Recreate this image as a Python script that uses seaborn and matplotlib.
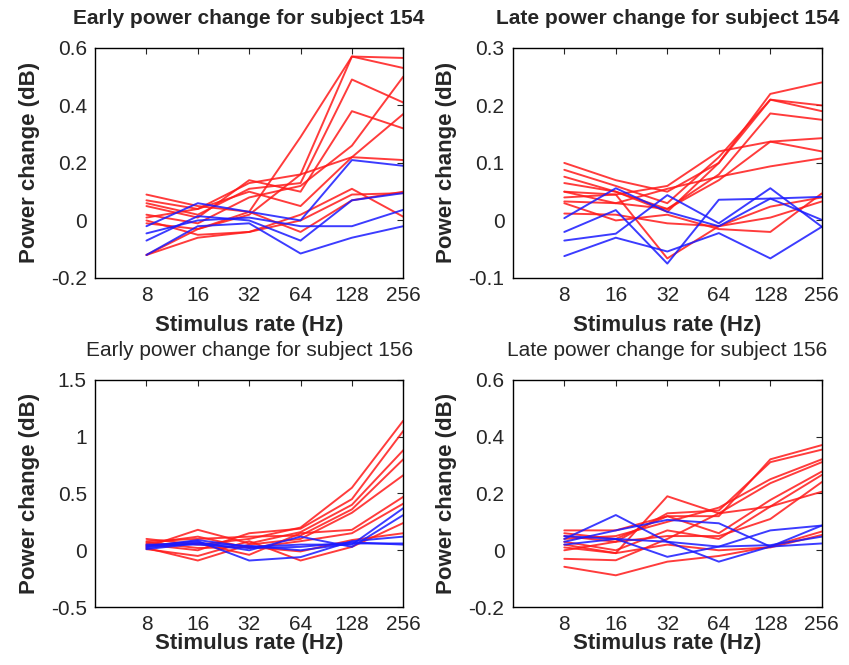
import numpy as np
import pandas as pd
import matplotlib
matplotlib.use("Agg")
import matplotlib.pyplot as plt
import seaborn as sns

# Stimulus rates (Hz), x axis is log2
RATES = [8, 16, 32, 64, 128, 256]

# Early, subject 154
early154_red = [
    [0.09, 0.05, 0.03, 0.29, 0.57, 0.565],
    [0.07, 0.04, 0.13, 0.16, 0.57, 0.53],
    [0.06, 0.02, 0.11, 0.13, 0.49, 0.41],
    [0.05, 0.01, 0.14, 0.10, 0.38, 0.32],
    [0.02, -0.01, 0.08, 0.12, 0.26, 0.50],
    [0.01, 0.04, 0.10, 0.05, 0.22, 0.37],
    [-0.01, -0.03, 0.02, 0.16, 0.22, 0.21],
    [0.00, -0.05, -0.04, 0.02, 0.11, 0.013],
    [-0.12, -0.06, -0.04, 0.00, 0.09, 0.095],
    [-0.12, -0.03, 0.03, -0.04, 0.07, 0.10],
]
early154_blue = [
    [-0.02, 0.06, 0.03, 0.00, 0.21, 0.19],
    [-0.045, 0.00, 0.01, -0.02, -0.02, 0.037],
    [-0.07, 0.015, 0.00, -0.07, 0.07, 0.095],
    [-0.12, -0.02, -0.01, -0.115, -0.06, -0.02],
]

# Late, subject 154
late154_red = [
    [0.10, 0.07, 0.05, 0.10, 0.22, 0.24],
    [0.088, 0.06, 0.03, 0.11, 0.21, 0.20],
    [0.076, 0.05, 0.015, 0.10, 0.21, 0.19],
    [0.065, 0.05, 0.02, 0.08, 0.186, 0.175],
    [0.05, 0.03, 0.02, 0.07, 0.137, 0.143],
    [0.05, 0.045, 0.06, 0.12, 0.137, 0.12],
    [0.033, 0.03, 0.055, 0.076, 0.094, 0.108],
    [0.03, 0.00, 0.01, -0.015, -0.02, 0.047],
    [0.012, 0.01, -0.005, -0.01, 0.005, 0.033],
    [0.04, 0.045, -0.066, -0.01, 0.024, 0.04],
]
late154_blue = [
    [0.004, 0.056, 0.015, -0.01, 0.038, 0.001],
    [-0.02, 0.018, -0.075, 0.036, 0.038, 0.041],
    [-0.035, -0.023, 0.044, -0.005, 0.056, -0.011],
    [-0.062, -0.03, -0.054, -0.022, -0.066, -0.011],
]

# Early, subject 156
early156_red = [
    [0.10, 0.05, 0.10, 0.20, 0.55, 1.14],
    [0.05, 0.00, 0.15, 0.19, 0.45, 1.05],
    [0.03, 0.18, 0.06, 0.16, 0.40, 0.88],
    [0.08, 0.10, 0.12, 0.13, 0.36, 0.80],
    [0.02, -0.09, 0.05, 0.10, 0.33, 0.66],
    [0.04, 0.06, -0.04, 0.15, 0.18, 0.47],
    [0.06, 0.12, 0.02, 0.08, 0.15, 0.41],
    [0.01, -0.05, 0.08, -0.09, 0.03, 0.24],
    [0.07, 0.02, 0.03, -0.01, 0.09, 0.15],
]
early156_blue = [
    [0.03, 0.09, 0.03, 0.05, 0.05, 0.37],
    [0.02, 0.07, 0.00, 0.12, 0.03, 0.31],
    [0.04, 0.08, -0.09, -0.06, 0.08, 0.12],
    [0.05, 0.05, 0.02, 0.03, 0.07, 0.05],
    [0.01, 0.06, 0.04, 0.00, 0.06, 0.06],
]

# Late, subject 156
late156_red = [
    [0.07, 0.07, 0.12, 0.12, 0.32, 0.37],
    [0.05, 0.03, 0.13, 0.14, 0.31, 0.354],
    [0.04, 0.05, 0.10, 0.15, 0.25, 0.32],
    [0.02, -0.01, 0.19, 0.13, 0.236, 0.31],
    [0.06, 0.04, 0.12, 0.06, 0.177, 0.277],
    [0.03, 0.00, 0.07, 0.04, 0.154, 0.265],
    [-0.03, -0.035, 0.04, 0.13, 0.154, 0.206],
    [0.00, 0.03, 0.05, 0.05, 0.11, 0.24],
    [-0.058, -0.088, -0.04, -0.02, 0.013, 0.066],
    [0.01, -0.01, 0.02, 0.00, 0.01, 0.054],
]
late156_blue = [
    [0.04, 0.124, 0.03, 0.013, 0.07, 0.087],
    [0.03, 0.07, 0.107, 0.095, 0.013, 0.087],
    [0.02, 0.04, -0.023, 0.013, 0.018, 0.048],
    [0.05, 0.04, 0.03, -0.04, 0.013, 0.024],
]

PANELS = [
    ("Early power change for subject 154", "bold", early154_red, early154_blue, (-0.2, 0.6), 0.2),
    ("Late power change for subject 154", "bold", late154_red, late154_blue, (-0.1, 0.3), 0.1),
    ("Early power change for subject 156", "normal", early156_red, early156_blue, (-0.5, 1.5), 0.5),
    ("Late power change for subject 156", "normal", late156_red, late156_blue, (-0.2, 0.6), 0.2),
]


def to_long(red, blue):
    rows = []
    for group, lines in (("red", red), ("blue", blue)):
        for i, vals in enumerate(lines):
            for r, v in zip(RATES, vals):
                rows.append({"group": group, "line": f"{group}{i}", "rate": r, "value": v})
    return pd.DataFrame(rows)


sns.set_style("white")
FONT = ["Liberation Sans", "DejaVu Sans"]
plt.rcParams["font.family"] = FONT
plt.rcParams["axes.linewidth"] = 1.0
plt.rcParams["axes.edgecolor"] = "black"

fig = plt.figure(figsize=(8.49, 6.65), dpi=100)
positions = [
    [0.112, 0.582, 0.363, 0.346],
    [0.604, 0.582, 0.364, 0.346],
    [0.112, 0.087, 0.363, 0.342],
    [0.604, 0.087, 0.364, 0.342],
]

for k, (pos, (title, weight, red, blue, ylim, step)) in enumerate(zip(positions, PANELS)):
    ax = fig.add_axes(pos)
    df = to_long(red, blue)
    sns.lineplot(data=df, x="rate", y="value", hue="group", units="line",
                 estimator=None, palette={"red": "#ff1a1a", "blue": "#1a1aff"},
                 linewidth=1.4, alpha=0.85, legend=False, ax=ax)
    ax.set_xscale("log", base=2)
    ax.set_xlim(4, 256)
    ax.set_xticks(RATES)
    ax.set_xticklabels([str(r) for r in RATES])
    ax.minorticks_off()
    ax.set_ylim(*ylim)
    yt = np.arange(ylim[0], ylim[1] + step / 2, step)
    ax.set_yticks(yt)
    ax.set_yticklabels([f"{v:g}" if abs(v) > 1e-9 else "0" for v in yt])
    ax.tick_params(direction="in", length=4, width=0.8, top=True, right=True,
                   labelsize=15, pad=6)
    ax.set_xlabel("Stimulus rate (Hz)", fontsize=16, fontweight="bold",
                  labelpad=7 if k < 2 else -1)
    ax.set_ylabel("Power change (dB)", fontsize=16, fontweight="bold", labelpad=8)
    ax.set_title(title, fontsize=15, fontweight=weight, pad=17)
    for s in ax.spines.values():
        s.set_visible(True)
        s.set_color("black")

fig.savefig("out.png", dpi=100)
